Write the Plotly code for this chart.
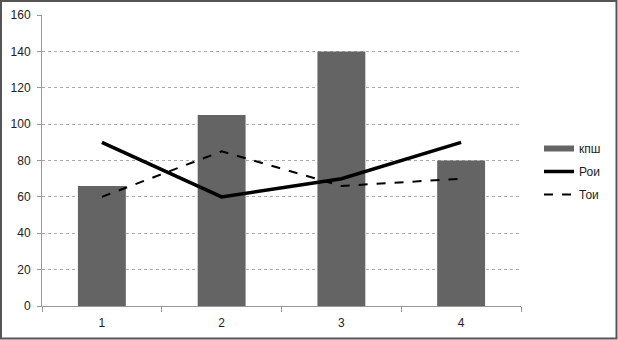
import plotly.graph_objects as go

categories = ["1", "2", "3", "4"]
kpsh = [66, 105, 140, 80]
roi = [90, 60, 70, 90]
toi = [60, 85, 66, 70]
y_ticks = [0, 20, 40, 60, 80, 100, 120, 140, 160]

W, H = 618, 340
L, R, T, B = 42, 97, 15, 34
pw, ph = W - L - R, H - T - B
bar_color = "#646464"

fig = go.Figure()
fig.add_trace(go.Bar(x=categories, y=kpsh, name="кпш", marker=dict(color=bar_color, line=dict(width=0)),
                     showlegend=False, legendgroup="a"))
# legend entry for the bars drawn as a wide block, like the reference
fig.add_trace(go.Scatter(x=[None], y=[None], name="кпш", mode="lines",
                         line=dict(color=bar_color, width=6), legendgroup="a"))
fig.add_trace(go.Scatter(x=categories, y=roi, name="Рои", mode="lines",
                         line=dict(color="black", width=3.5), legendgroup="b"))
fig.add_trace(go.Scatter(x=categories, y=toi, name="Тои", mode="lines",
                         line=dict(color="black", width=2, dash="dash"), legendgroup="c"))

fig.update_layout(
    width=W, height=H,
    margin=dict(l=L, r=R, t=T, b=B, autoexpand=False),
    paper_bgcolor="white", plot_bgcolor="white",
    bargap=0.6,
    font=dict(family="Liberation Sans, Arial, sans-serif", size=12, color="#222"),
    showlegend=True,
    legend=dict(x=(539 - L) / pw, y=1 - (134 - T) / ph, xanchor="left", yanchor="top",
                font=dict(size=12), itemwidth=30, tracegroupgap=4, bgcolor="rgba(0,0,0,0)"),
    xaxis=dict(type="category", tickson="boundaries", ticks="outside", ticklen=5, tickcolor="#999",
               showline=True, linecolor="#999", linewidth=1, showgrid=False, range=[-0.5, 3.5],
               automargin=False, tickfont=dict(size=12), ticklabelstandoff=6),
    yaxis=dict(range=[0, 160], tickvals=y_ticks, ticks="outside", ticklen=4, tickcolor="#999",
               showline=True, linecolor="#999", linewidth=1, showgrid=True, gridcolor="#aaa",
               griddash="dot", gridwidth=1, zeroline=False, automargin=False,
               tickfont=dict(size=12), ticklabelstandoff=4),
    shapes=[dict(type="rect", xref="paper", yref="paper",
                 x0=(1 - L) / pw, x1=(W - 1.5 - L) / pw,
                 y0=1 - (H - 1.5 - T) / ph, y1=1 + (T - 1) / ph,
                 line=dict(color="#555", width=2), layer="above")],
)

fig.write_html("out.html")
